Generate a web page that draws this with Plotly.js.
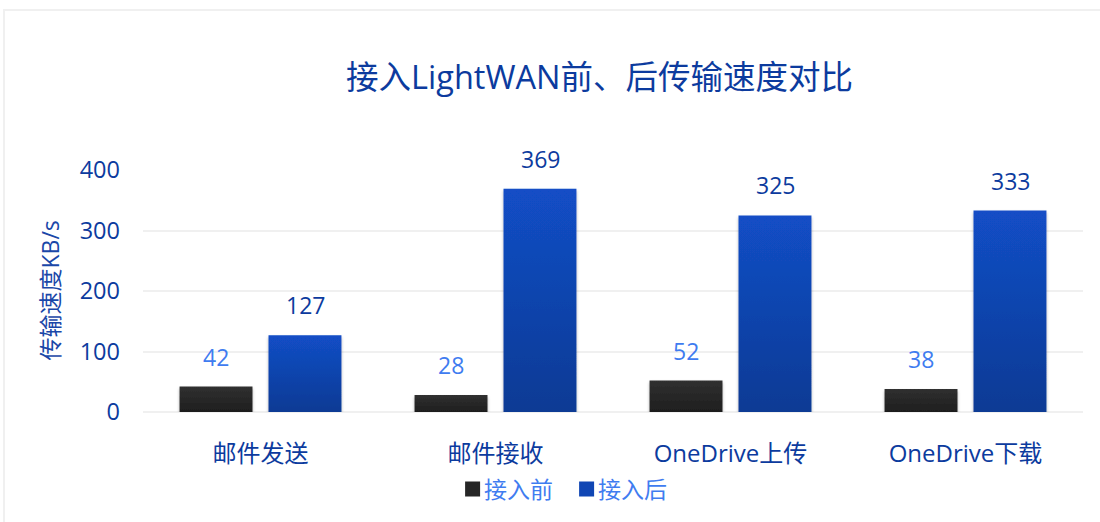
<!DOCTYPE html>
<html><head><meta charset="utf-8">
<script src="https://cdn.plot.ly/plotly-3.0.1.min.js"></script>
<style>
html,body{margin:0;padding:0;background:#fff;width:1100px;height:522px;overflow:hidden;}
#chart{position:absolute;left:0;top:0;width:1100px;height:522px;}
#frame{position:absolute;left:3px;top:9px;width:1200px;height:600px;border-top:2px solid #f0f0f0;border-left:2px solid #f0f0f0;pointer-events:none;}
</style></head>
<body>
<div id="chart"></div>
<div id="frame"></div>
<script>
const categories = ['邮件发送', '邮件接收', 'OneDrive上传', 'OneDrive下载'];
const seriesNames = ['接入前', '接入后'];
const before = [42, 28, 52, 38];
const after = [127, 369, 325, 333];
const yTicks = [0, 100, 200, 300, 400];

const FONT = '"Open Sans", "Noto Sans CJK SC", sans-serif';
const DARK_BLUE = '#0c3b9e';
const LIGHT_BLUE = '#3f7cf0';

const traces = [
  {type:'bar', name:seriesNames[0], x:categories, y:before, marker:{color:'#262626'}, hoverinfo:'none'},
  {type:'bar', name:seriesNames[1], x:categories, y:after, marker:{color:'#1046b4'}, hoverinfo:'none'}
];

const annotations = [];
const shift = 44.5;
categories.forEach((c, i) => {
  annotations.push({x:c, y:before[i], xref:'x', yref:'y', text:String(before[i]), showarrow:false,
    xshift:-shift, yshift:30, yanchor:'middle', font:{family:FONT, size:23, color:LIGHT_BLUE}});
  annotations.push({x:c, y:after[i], xref:'x', yref:'y', text:String(after[i]), showarrow:false,
    xshift:shift, yshift:30, yanchor:'middle', font:{family:FONT, size:23, color:DARK_BLUE}});
});

const layout = {
  width:1100, height:522,
  margin:{l:143, r:17, t:170, b:107},
  paper_bgcolor:'#ffffff', plot_bgcolor:'#ffffff',
  font:{family:FONT, color:DARK_BLUE},
  title:{text:'接入LightWAN前、后传输速度对比', x:0.545, xref:'container', xanchor:'center',
    y:1-78/522, yref:'container', yanchor:'middle', font:{family:FONT, size:32.5, color:DARK_BLUE}},
  barmode:'group', bargap:0.243, bargroupgap:0.18,
  xaxis:{type:'category', showgrid:false, zeroline:false, showline:false, ticks:'',
    ticklabelstandoff:25, tickfont:{family:FONT, size:24, color:DARK_BLUE}},
  yaxis:{range:[0,400], tickvals:yTicks, showgrid:true, gridcolor:'#f0f0f0', gridwidth:2,
    zeroline:true, zerolinecolor:'#f0f0f0', zerolinewidth:2, showline:false, ticks:'',
    ticklabelstandoff:22, tickfont:{family:FONT, size:23.5, color:DARK_BLUE}},
  legend:{orientation:'h', x:0.4416, xanchor:'center', y:-0.318, yanchor:'middle',
    font:{family:FONT, size:23, color:LIGHT_BLUE}, itemwidth:30, traceorder:'normal'},
  annotations:annotations.concat([{
    text:'传输速度KB/s', xref:'paper', yref:'paper', x:(50-143)/940, y:(415-292)/245,
    xanchor:'center', yanchor:'middle', textangle:-90, showarrow:false,
    font:{family:FONT, size:23, color:'#1a47a8'}}]),
  showlegend:true
};

function applyGradients(){
  const svg = document.querySelector('#chart .main-svg');
  if(!svg) return;
  let defs = svg.querySelector('defs');
  const NS = 'http://www.w3.org/2000/svg';
  if(!document.getElementById('gradDark')){
    const mk = (id, top, bot) => {
      const g = document.createElementNS(NS,'linearGradient');
      g.setAttribute('id',id); g.setAttribute('x1','0'); g.setAttribute('y1','0'); g.setAttribute('x2','0'); g.setAttribute('y2','1');
      [[0,top],[1,bot]].forEach(([o,c])=>{const s=document.createElementNS(NS,'stop');s.setAttribute('offset',o);s.setAttribute('stop-color',c);g.appendChild(s);});
      defs.appendChild(g);
    };
    mk('gradDark','#303030','#1e1e1e');
    mk('gradBlue','#124ec6','#0e3a94');
    const f = document.createElementNS(NS,'filter');
    f.setAttribute('id','barShadow'); f.setAttribute('x','-20%'); f.setAttribute('y','-20%'); f.setAttribute('width','140%'); f.setAttribute('height','140%');
    const ds = document.createElementNS(NS,'feDropShadow');
    ds.setAttribute('dx','0'); ds.setAttribute('dy','2'); ds.setAttribute('stdDeviation','1.8'); ds.setAttribute('flood-color','#000'); ds.setAttribute('flood-opacity','0.3');
    f.appendChild(ds); defs.appendChild(f);
  }
  const groups = document.querySelectorAll('#chart .cartesianlayer .trace.bars');
  groups.forEach((g, i) => {
    g.querySelectorAll('path').forEach(p => {
      p.style.fill = i === 0 ? 'url(#gradDark)' : 'url(#gradBlue)';
      p.setAttribute('filter','url(#barShadow)');
    });
  });
  document.querySelectorAll('#chart .legend .legendpoints path').forEach(p => {
    p.setAttribute('d','M16,7.5H1V-7.5H16Z');
  });
}

Plotly.newPlot('chart', traces, layout, {staticPlot:true}).then(applyGradients);
</script>
</body></html>
